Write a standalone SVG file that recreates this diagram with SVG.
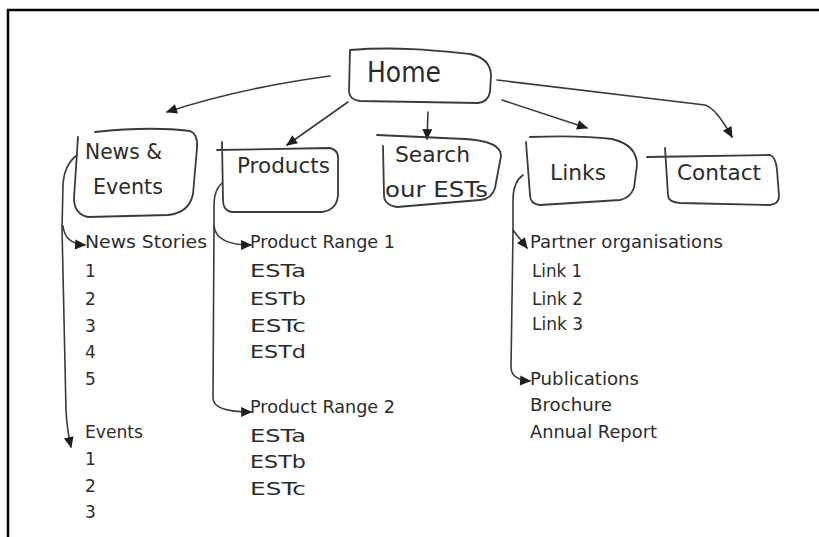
<svg xmlns="http://www.w3.org/2000/svg" width="819" height="537" viewBox="0 0 819 537">
<style>
.bx{fill:none;stroke:#3a3a3a;stroke-width:1.8;stroke-linecap:round;stroke-linejoin:round}
.cn{fill:none;stroke:#3a3a3a;stroke-width:1.6;stroke-linecap:round}
.ar{marker-end:url(#ah)}
.lb{font-family:"DejaVu Sans",sans-serif;font-size:22px;fill:#2b2b2b}
.it{font-family:"DejaVu Sans",sans-serif;font-size:17px;fill:#2b2b2b}
</style>
<defs>
<marker id="ah" viewBox="0 0 10 10" refX="9" refY="5" markerWidth="13" markerHeight="11" markerUnits="userSpaceOnUse" orient="auto">
<path d="M0,0.5 L10,5 L0,9.5 z" fill="#1e1e1e"/>
</marker>
</defs>
<rect x="0" y="0" width="819" height="537" fill="#fff"/>
<path d="M7,10 L819,10 M8,9 L8,537" stroke="#000" stroke-width="2.5" fill="none"/>

<g id="connectors">
<path class="cn ar" d="M330,76 Q240,88 167,112"/>
<path class="cn ar" d="M348,102 L287,145"/>
<path class="cn ar" d="M428,112 L427,139"/>
<path class="cn ar" d="M502,100 L587,128"/>
<path class="cn ar" d="M497,80 L705,105 Q716,108 732,137"/>
<path class="cn" d="M77,155 Q64,165 63,185 L62,228"/>
<path class="cn ar" d="M63,226 Q65,244 85,245"/>
<path class="cn ar" d="M62,228 L66,410 Q67,430 71,447"/>
<path class="cn" d="M222,183 Q214,190 214,205 L214,228"/>
<path class="cn ar" d="M214,226 Q216,245 251,245"/>
<path class="cn ar" d="M214,228 L213,398 Q213,412 251,412"/>
<path class="cn" d="M523,175 Q513,182 513,200 L513,232"/>
<path class="cn ar" d="M513,230 L527,248"/>
<path class="cn ar" d="M513,232 L511,368 Q512,380 530,381"/>
</g>

<g id="home">
<path class="bx" d="M350,50 C400,46 440,51 470,54 Q490,58 491,75 L490,92 Q488,102 478,103 L360,101 Q350,100 349,92 Z"/>
<text class="lb" x="367" y="82" style="font-size:29px" textLength="74" lengthAdjust="spacingAndGlyphs">Home</text>
</g>
<g id="news-events">
<path class="bx" d="M95,132 Q150,126 190,131 Q198,134 197,148 L193,194 Q189,213 168,215 L88,217 Q74,214 74,198 L78,137"/>
<text class="lb" x="85" y="159" textLength="77" lengthAdjust="spacingAndGlyphs">News &amp;</text>
<text class="lb" x="93" y="194" textLength="70" lengthAdjust="spacingAndGlyphs">Events</text>
</g>
<g id="products">
<path class="bx" d="M217,150 L330,148 Q339,150 338,160 L338,195 Q337,210 322,212 L232,212 Q223,211 223,200 L222,142"/>
<text class="lb" x="237" y="173" textLength="93" lengthAdjust="spacingAndGlyphs">Products</text>
</g>
<g id="search">
<path class="bx" d="M377,135 L465,139 Q501,141 501,156 L495,188 Q492,199 480,200 L397,207 Q384,205 384,195 L383,146"/>
<text class="lb" x="395" y="162" textLength="75" lengthAdjust="spacingAndGlyphs">Search</text>
<text class="lb" x="385" y="197" textLength="103" lengthAdjust="spacingAndGlyphs">our ESTs</text>
</g>
<g id="links">
<path class="bx" d="M530,137 Q580,135 612,139 Q637,145 637,165 L634,188 Q630,198 620,200 L540,205 Q530,204 530,195 L526,142"/>
<text class="lb" x="550" y="180" textLength="56" lengthAdjust="spacingAndGlyphs">Links</text>
</g>
<g id="contact">
<path class="bx" d="M647,157 L770,155 Q776,157 777,170 L779,196 Q779,204 770,205 L680,203 Q668,202 668,195 L665,148"/>
<text class="lb" x="677" y="180" textLength="84" lengthAdjust="spacingAndGlyphs">Contact</text>
</g>

<g id="news-list">
<text class="it" x="85" y="248" textLength="122" lengthAdjust="spacingAndGlyphs">News Stories</text>
<text class="it" x="85" y="277">1</text>
<text class="it" x="85" y="305">2</text>
<text class="it" x="85" y="332">3</text>
<text class="it" x="85" y="358">4</text>
<text class="it" x="85" y="385">5</text>
<text class="it" x="85" y="438" textLength="58" lengthAdjust="spacingAndGlyphs">Events</text>
<text class="it" x="85" y="465">1</text>
<text class="it" x="85" y="492">2</text>
<text class="it" x="85" y="518">3</text>
</g>
<g id="products-list">
<text class="it" x="250" y="248" textLength="145" lengthAdjust="spacingAndGlyphs">Product Range 1</text>
<text class="it" x="250" y="277" textLength="56" lengthAdjust="spacingAndGlyphs">ESTa</text>
<text class="it" x="250" y="305" textLength="56" lengthAdjust="spacingAndGlyphs">ESTb</text>
<text class="it" x="250" y="332" textLength="56" lengthAdjust="spacingAndGlyphs">ESTc</text>
<text class="it" x="250" y="358" textLength="56" lengthAdjust="spacingAndGlyphs">ESTd</text>
<text class="it" x="250" y="413" textLength="145" lengthAdjust="spacingAndGlyphs">Product Range 2</text>
<text class="it" x="250" y="442" textLength="56" lengthAdjust="spacingAndGlyphs">ESTa</text>
<text class="it" x="250" y="468" textLength="56" lengthAdjust="spacingAndGlyphs">ESTb</text>
<text class="it" x="250" y="495" textLength="56" lengthAdjust="spacingAndGlyphs">ESTc</text>
</g>
<g id="links-list">
<text class="it" x="530" y="248" textLength="193" lengthAdjust="spacingAndGlyphs">Partner organisations</text>
<text class="it" x="532" y="277" textLength="50" lengthAdjust="spacingAndGlyphs">Link 1</text>
<text class="it" x="532" y="305" textLength="51" lengthAdjust="spacingAndGlyphs">Link 2</text>
<text class="it" x="532" y="330" textLength="51" lengthAdjust="spacingAndGlyphs">Link 3</text>
<text class="it" x="530" y="385" textLength="109" lengthAdjust="spacingAndGlyphs">Publications</text>
<text class="it" x="530" y="411" textLength="82" lengthAdjust="spacingAndGlyphs">Brochure</text>
<text class="it" x="530" y="438" textLength="127" lengthAdjust="spacingAndGlyphs">Annual Report</text>
</g>
</svg>
